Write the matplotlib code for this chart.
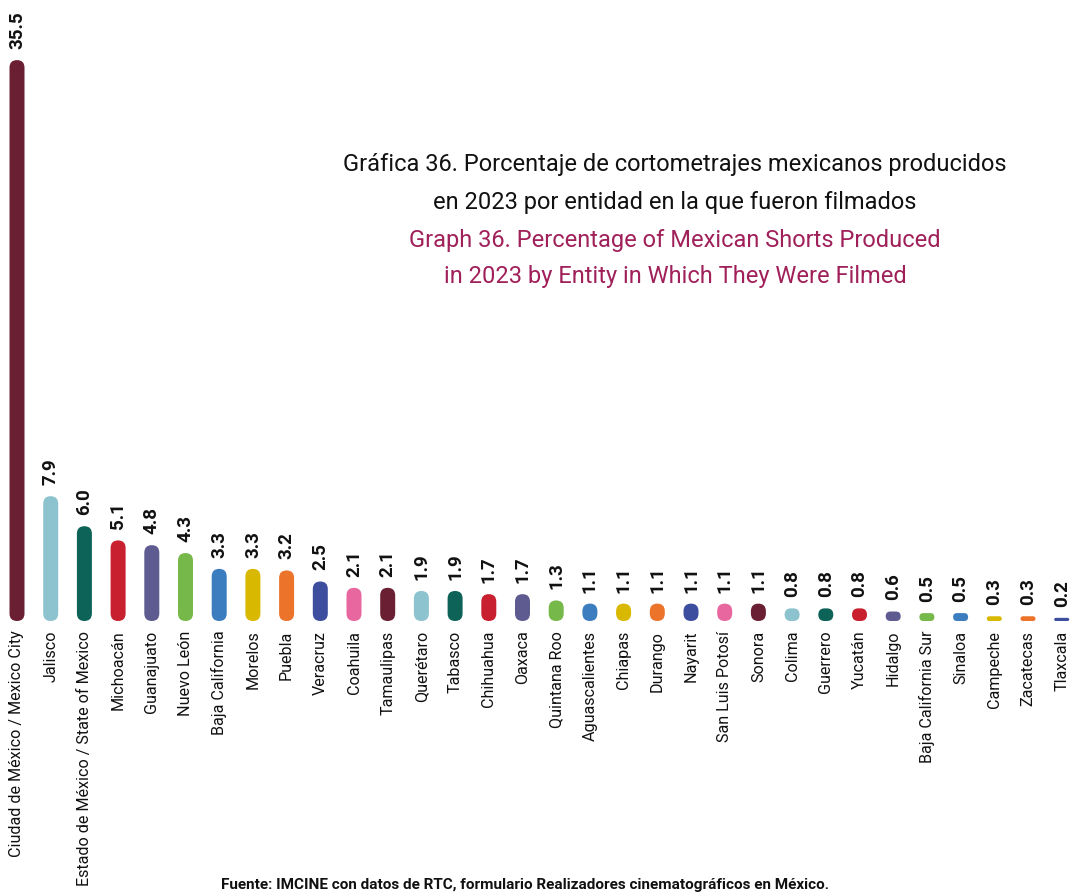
import matplotlib
matplotlib.use("Agg")
import matplotlib.pyplot as plt
from matplotlib.patches import FancyBboxPatch

categories = ["Ciudad de México / Mexico City", "Jalisco", "Estado de México / State of Mexico",
              "Michoacán", "Guanajuato", "Nuevo León", "Baja California", "Morelos", "Puebla",
              "Veracruz", "Coahuila", "Tamaulipas", "Querétaro", "Tabasco", "Chihuahua", "Oaxaca",
              "Quintana Roo", "Aguascalientes", "Chiapas", "Durango", "Nayarit", "San Luis Potosí",
              "Sonora", "Colima", "Guerrero", "Yucatán", "Hidalgo", "Baja California Sur", "Sinaloa",
              "Campeche", "Zacatecas", "Tlaxcala"]
values = [35.5, 7.9, 6.0, 5.1, 4.8, 4.3, 3.3, 3.3, 3.2, 2.5, 2.1, 2.1, 1.9, 1.9, 1.7, 1.7,
          1.3, 1.1, 1.1, 1.1, 1.1, 1.1, 1.1, 0.8, 0.8, 0.8, 0.6, 0.5, 0.5, 0.3, 0.3, 0.2]
palette = ["#6B1F33", "#8DC3CF", "#0E6358", "#C8202F", "#5E5B91", "#77B84A",
           "#3B7DBF", "#D8B800", "#EB732A", "#3E4E9E", "#E8679E"]

plt.rcParams['font.family'] = ["Roboto", "DejaVu Sans"]

W, H = 1073, 893
fig = plt.figure(figsize=(W / 100, H / 100), dpi=100)
ax = fig.add_axes([0, 0, 1, 1])
px_x = 33.7
px_y = 15.8
x0 = -17 / px_x
ax.set_xlim(x0, x0 + W / px_x)
yb = -(H - 621) / px_y
ax.set_ylim(yb, yb + H / px_y)
ax.axis("off")

bw = 15 / px_x
aspect = px_x / px_y
for i, (c, v) in enumerate(zip(categories, values)):
    col = palette[i % len(palette)]
    r = min(bw / 2, v / (2 * aspect))
    p = FancyBboxPatch((i - bw / 2, 0), bw, v,
                       boxstyle=f"round,pad=0,rounding_size={r}",
                       mutation_aspect=aspect, facecolor=col, edgecolor="none")
    ax.add_patch(p)
    ax.annotate(f"{v:.1f}", (i, v), xytext=(0, 8), textcoords="offset points",
                rotation=90, ha="center", va="bottom", fontsize=13.5, fontweight="bold",
                color="#111111")
    ax.annotate(c, (i, 0), xytext=(0, -7), textcoords="offset points",
                rotation=90, ha="center", va="top", fontsize=11.6, color="#111111")

fig.text(675 / W, 1 - 165 / H, "Gráfica 36. Porcentaje de cortometrajes mexicanos producidos",
         ha="center", va="center", fontsize=17, color="#111111")
fig.text(675 / W, 1 - 203 / H, "en 2023 por entidad en la que fueron filmados",
         ha="center", va="center", fontsize=17, color="#111111")
fig.text(675 / W, 1 - 240 / H, "Graph 36. Percentage of Mexican Shorts Produced",
         ha="center", va="center", fontsize=17, color="#A0205A")
fig.text(675 / W, 1 - 277 / H, "in 2023 by Entity in Which They Were Filmed",
         ha="center", va="center", fontsize=17, color="#A0205A")
fig.text(525 / W, 1 / H,
         "Fuente: IMCINE con datos de RTC, formulario Realizadores cinematográficos en México.",
         ha="center", va="bottom", fontsize=11, fontweight="bold", color="#111111")

fig.savefig("out.png", dpi=100, facecolor="white")
